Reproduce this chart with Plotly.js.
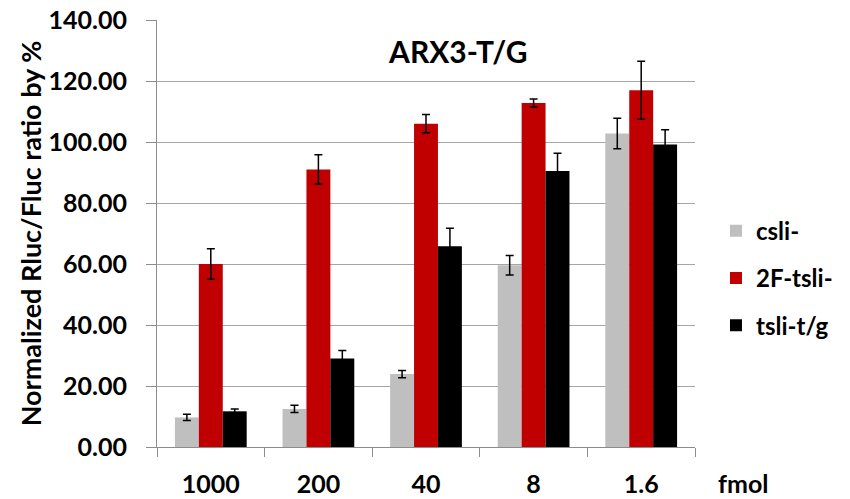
<!DOCTYPE html>
<html>
<head>
<meta charset="utf-8">
<script src="https://cdn.plot.ly/plotly-3.0.1.min.js"></script>
<style>html,body{margin:0;padding:0;background:#fff;}#chart{width:850px;height:499px;}</style>
</head>
<body>
<div id="chart"></div>
<script>
const categories = ['1000', '200', '40', '8', '1.6'];
const csli = [9.7, 12.5, 23.9, 59.6, 102.8];
const csliErr = [1.0, 1.2, 1.2, 3.2, 5.0];
const tsli2F = [60.0, 91.0, 106.0, 112.8, 117.0];
const tsli2FErr = [5.0, 4.8, 3.0, 1.3, 9.5];
const tsliTG = [11.7, 29.0, 65.8, 90.5, 99.2];
const tsliTGErr = [0.8, 2.6, 5.9, 5.8, 4.8];
const seriesNames = ['csli-', '2F-tsli-', 'tsli-t/g'];

const FONT = 'Lato, "Open Sans", "Liberation Sans", sans-serif';
const errStyle = {type: 'data', visible: true, color: '#000000', thickness: 1.5, width: 4};

function bar(name, y, err, color, group) {
  return {
    type: 'bar', name: name, x: categories, y: y,
    marker: {color: color},
    error_y: Object.assign({array: err}, errStyle),
    legendgroup: group
  };
}

const data = [
  bar(seriesNames[0], csli, csliErr, '#BFBFBF', 'a'),
  bar(seriesNames[1], tsli2F, tsli2FErr, '#C00000', 'b'),
  bar(seriesNames[2], tsliTG, tsliTGErr, '#000000', 'c')
];

const layout = {
  width: 850, height: 499,
  margin: {l: 157, r: 139, t: 20, b: 52},
  paper_bgcolor: '#ffffff', plot_bgcolor: '#ffffff',
  font: {family: FONT, color: '#000000'},
  barmode: 'group', bargap: 0.333, bargroupgap: 0,
  title: {
    text: '<b>ARX3-T/G</b>', font: {family: FONT, size: 30, color: '#000'},
    xref: 'paper', yref: 'paper', x: 0.56, y: 0.925, xanchor: 'center', yanchor: 'middle'
  },
  xaxis: {
    type: 'category', tickson: 'boundaries',
    ticks: 'outside', ticklen: 9, tickcolor: '#8c8c8c', tickwidth: 1,
    showline: true, linecolor: '#8c8c8c', linewidth: 1,
    showgrid: false, zeroline: false,
    tickfont: {family: FONT, size: 25, color: '#000', weight: 'bold'},
    ticklabelstandoff: 15,
    automargin: false
  },
  yaxis: {
    range: [0, 140], dtick: 20, tickformat: '.2f',
    ticks: 'outside', ticklen: 10, tickcolor: '#8c8c8c', tickwidth: 1,
    showline: true, linecolor: '#8c8c8c', linewidth: 1,
    showgrid: true, gridcolor: '#a6a6a6', gridwidth: 1.2,
    zeroline: false,
    tickfont: {family: FONT, size: 25, color: '#000', weight: 'bold'},
    ticklabelstandoff: 14,
    automargin: false,
    title: {text: '<b>Normalized Rluc/Fluc ratio by %</b>', font: {family: FONT, size: 27, color: '#000'}}
  },
  legend: {
    x: 1.039, y: 0.558, xanchor: 'left', yanchor: 'top',
    font: {family: FONT, size: 24, color: '#000', weight: 'bold'},
    traceorder: 'grouped', tracegroupgap: 13,
    bgcolor: 'rgba(0,0,0,0)', borderwidth: 0
  },
  showlegend: true,
  annotations: [{
    text: '<b>fmol</b>', xref: 'paper', yref: 'paper', x: 1.0884, y: -0.084,
    xanchor: 'center', yanchor: 'middle', showarrow: false,
    font: {family: FONT, size: 25, color: '#000'}
  }]
};

Plotly.newPlot('chart', data, layout, {displayModeBar: false, responsive: false});
</script>
</body>
</html>
